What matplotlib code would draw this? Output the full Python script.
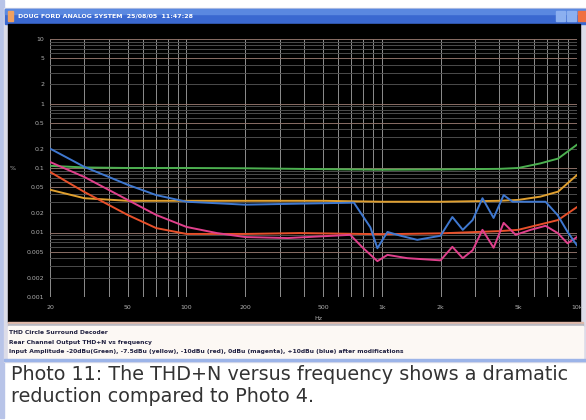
import matplotlib
matplotlib.use("Agg")
import matplotlib.pyplot as plt
from matplotlib.patches import Rectangle
from matplotlib.ticker import FixedLocator, NullFormatter, NullLocator

# THD+N (%) vs frequency (Hz), one trace per input level
freq_green = [20, 30, 50, 100, 200, 500, 1000, 2000, 4000, 5000, 6500, 8000, 10000]
thd_green = [0.108, 0.102, 0.1, 0.1, 0.099, 0.096, 0.094, 0.095, 0.097, 0.1, 0.118, 0.14, 0.23]

freq_yellow = [20, 30, 50, 100, 200, 500, 1000, 2000, 4000, 5000, 6500, 8000, 10000]
thd_yellow = [0.046, 0.034, 0.031, 0.031, 0.031, 0.031, 0.030, 0.030, 0.031, 0.032, 0.036, 0.043, 0.078]

freq_blue = [20, 30, 50, 70, 100, 200, 380, 720, 875, 950, 1070, 1250, 1520, 2000,
             2300, 2600, 2920, 3280, 3740, 4210, 4680, 6900, 7960, 8950, 10000]
thd_blue = [0.2, 0.104, 0.055, 0.038, 0.030, 0.027, 0.028, 0.029, 0.012, 0.0057, 0.0102,
            0.0089, 0.0077, 0.0089, 0.0174, 0.011, 0.0156, 0.034, 0.0168, 0.038, 0.030,
            0.030, 0.0186, 0.0102, 0.0063]

freq_red = [20, 30, 50, 70, 100, 200, 380, 1000, 2000, 4000, 5000, 8000, 10000]
thd_red = [0.087, 0.0425, 0.0187, 0.0117, 0.0095, 0.0095, 0.0098, 0.0094, 0.0097,
           0.0105, 0.011, 0.0156, 0.0248]

freq_magenta = [20, 30, 50, 70, 100, 143, 200, 330, 690, 800, 950, 1070, 1350, 2000,
                2300, 2600, 2920, 3280, 3740, 4210, 4850, 5790, 6900, 7960, 8950, 10000]
thd_magenta = [0.124, 0.0725, 0.032, 0.0187, 0.0122, 0.0098, 0.0085, 0.0082, 0.0092,
               0.0058, 0.0036, 0.0045, 0.004, 0.0037, 0.006, 0.004, 0.0053, 0.011, 0.0058,
               0.0141, 0.0092, 0.011, 0.0127, 0.0098, 0.0068, 0.0085]

x_ticks = [20, 50, 100, 200, 500, 1000, 2000, 5000, 10000]
x_labels = ["20", "50", "100", "200", "500", "1k", "2k", "5k", "10k"]
y_ticks = [10, 5, 2, 1, 0.5, 0.2, 0.1, 0.05, 0.02, 0.01, 0.005, 0.002, 0.001]
y_labels = ["10", "5", "2", "1", "0.5", "0.2", "0.1", "0.05", "0.02", "0.01", "0.005", "0.002", "0.001"]

W, H = 586, 420
fig = plt.figure(figsize=(W / 100, H / 100), dpi=100)
fig.patch.set_facecolor("white")

# background layer in pixel coordinates
bg = fig.add_axes([0, 0, 1, 1])
bg.set_xlim(0, W)
bg.set_ylim(H, 0)
bg.axis("off")

# window frame, title bar, black plot panel, info panel
bg.add_patch(Rectangle((0, 0), 4, 418, color="#b8c4e8"))
bg.add_patch(Rectangle((4, 8), 582, 354, color="#dcdce8"))
bg.add_patch(Rectangle((5, 9), 581, 15, color="#3a68d0"))
bg.add_patch(Rectangle((5, 9), 581, 5, color="#5a88e0"))
bg.text(18, 16.5, "DOUG FORD ANALOG SYSTEM  25/08/05  11:47:28", color="white",
        fontsize=4.5, fontweight="bold", va="center", ha="left")
bg.add_patch(Rectangle((8, 11), 5, 10, color="#f0a060"))
bg.add_patch(Rectangle((556, 11), 9, 10, color="#8cb0f0"))
bg.add_patch(Rectangle((567, 11), 9, 10, color="#8cb0f0"))
bg.add_patch(Rectangle((578, 11), 8, 10, color="#f07040"))
bg.add_patch(Rectangle((8, 24), 572, 298, color="black"))
bg.add_patch(Rectangle((8, 322), 575, 2, color="#e0b8a8"))
bg.add_patch(Rectangle((8, 324), 575, 2, color="#b8b8c0"))
bg.add_patch(Rectangle((8, 326), 575, 33, color="#fcf8f4"))
bg.add_patch(Rectangle((4, 359), 582, 2, color="#9cb4e8"))

info = ["THD Circle Surround Decoder",
        "Rear Channel Output THD+N vs frequency",
        "Input Amplitude -20dBu(Green), -7.5dBu (yellow), -10dBu (red), 0dBu (magenta), +10dBu (blue) after modifications"]
for i, line in enumerate(info):
    bg.text(9, 333 + i * 9.5, line, fontsize=4.3, fontweight="bold", color="#202040",
            va="center", ha="left")

bg.text(11, 375, "Photo 11: The THD+N versus frequency shows a dramatic",
        fontsize=13.8, color="#333333", va="center", ha="left")
bg.text(11, 397, "reduction compared to Photo 4.",
        fontsize=13.8, color="#333333", va="center", ha="left")

bg.text(13, 168, "%", fontsize=4.5, color="#b0b0b0", va="center", ha="center")
bg.text(318, 318, "Hz", fontsize=4.5, color="#b0b0b0", va="center", ha="center")
bg.text(512, 46, "AP", fontsize=7, color="#a8c0e8", fontweight="bold", style="italic",
        va="center", ha="center")

# main plot
ax = fig.add_axes([50 / W, 1 - 297 / H, 527 / W, 258 / H])
ax.set_facecolor("black")
ax.set_xscale("log")
ax.set_yscale("log")
ax.set_xlim(20, 10000)
ax.set_ylim(0.001, 10)

vgrid = [20, 30, 40, 50, 60, 70, 80, 90, 100, 200, 300, 400, 500, 600, 700, 800, 900,
         1000, 2000, 3000, 4000, 5000, 6000, 7000, 8000, 9000, 10000]
for f in vgrid:
    ax.axvline(f, color="#8e8e8e", lw=0.7, zorder=1)
for dec in [0.001, 0.01, 0.1, 1]:
    for m in range(1, 10):
        v = dec * m
        ax.axhline(v, color="#8a6e66" if m in (1, 5) else "#4c4c4c", lw=0.7, zorder=1)
ax.axhline(10, color="#8a6e66", lw=0.7, zorder=1)

ax.plot(freq_green, thd_green, color="#4cb050", lw=1.4, zorder=3)
ax.plot(freq_yellow, thd_yellow, color="#e0a030", lw=1.4, zorder=3)
ax.plot(freq_red, thd_red, color="#e8502a", lw=1.4, zorder=3)
ax.plot(freq_magenta, thd_magenta, color="#e0408c", lw=1.4, zorder=4)
ax.plot(freq_blue, thd_blue, color="#3f78d0", lw=1.4, zorder=5)

ax.xaxis.set_major_locator(FixedLocator(x_ticks))
ax.set_xticklabels(x_labels)
ax.xaxis.set_minor_locator(NullLocator())
ax.xaxis.set_minor_formatter(NullFormatter())
ax.yaxis.set_major_locator(FixedLocator(y_ticks))
ax.set_yticklabels(y_labels)
ax.yaxis.set_minor_locator(NullLocator())
ax.yaxis.set_minor_formatter(NullFormatter())
ax.tick_params(axis="both", length=0, labelsize=4.5, labelcolor="#b0b0b0")
ax.tick_params(axis="x", pad=6)
ax.tick_params(axis="y", pad=4)
for s in ax.spines.values():
    s.set_visible(False)

fig.savefig("out.png", dpi=100, facecolor="white")
